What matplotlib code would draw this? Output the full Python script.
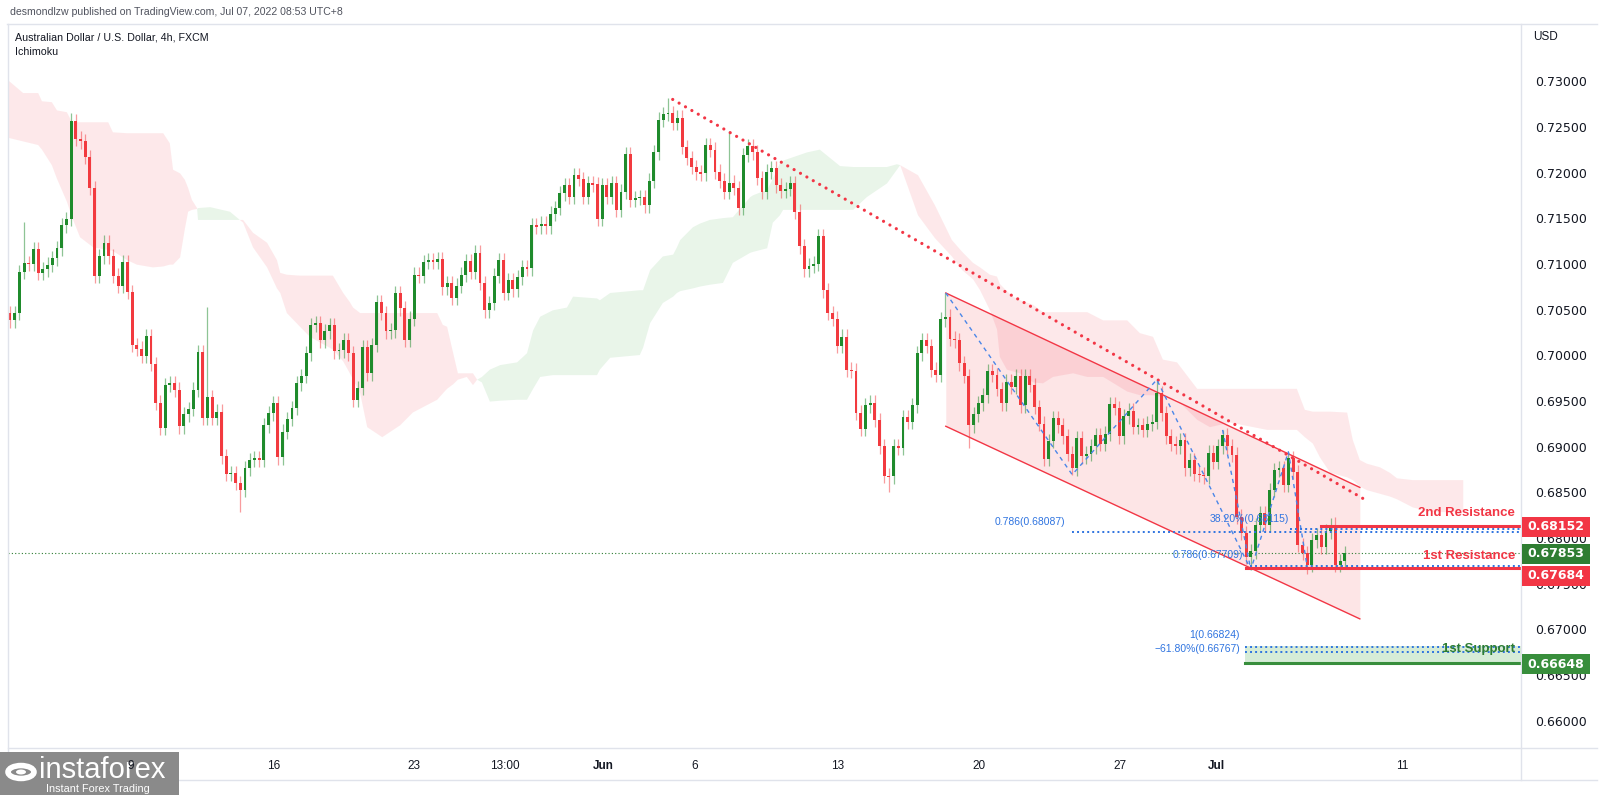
import matplotlib
matplotlib.use("Agg")
import matplotlib.pyplot as plt
import numpy as np
from matplotlib.lines import Line2D
from matplotlib.patches import Rectangle, Circle

plt.rcParams["font.family"] = ["Liberation Sans", "DejaVu Sans"]

# ---- AUDUSD 4h candles, prices in pips (1 pip = 0.0001) ----
first_open = 7048
closes = [
    7040, 7048, 7093, 7103, 7102, 7118, 7092, 7096, 7101, 7108, 7119, 7144, 7151, 7258, 7239,
    7236, 7219, 7185, 7089, 7110, 7125, 7110, 7089, 7078, 7104, 7071, 7013, 7009, 7001, 7023,
    6992, 6950, 6922, 6969, 6971, 6964, 6924, 6937, 6943, 6964, 7005, 6933, 6956, 6933, 6940,
    6891, 6872, 6873, 6862, 6854, 6878, 6887, 6889, 6887, 6925, 6938, 6949, 6890, 6918, 6932,
    6944, 6971, 6979, 7004, 7035, 7037, 7018, 7028, 7035, 7006, 7007, 7018, 7004, 6953, 6966,
    7011, 6982, 7013, 7060, 7048, 7028, 7029, 7070, 7053, 7019, 7042, 7090, 7089, 7104, 7106,
    7104, 7107, 7076, 7081, 7065, 7078, 7090, 7105, 7093, 7114, 7081, 7051, 7059, 7089, 7106,
    7070, 7084, 7074, 7087, 7098, 7097, 7144, 7143, 7146, 7143, 7157, 7163, 7179, 7188, 7175,
    7199, 7195, 7175, 7190, 7189, 7151, 7188, 7175, 7190, 7161, 7181, 7222, 7172, 7174, 7175,
    7166, 7193, 7224, 7260, 7266, 7267, 7256, 7262, 7230, 7218, 7208, 7202, 7201, 7232, 7227,
    7203, 7193, 7181, 7191, 7185, 7163, 7221, 7231, 7224, 7196, 7181, 7203, 7207, 7188, 7182,
    7184, 7190, 7159, 7121, 7096, 7100, 7102, 7132, 7073, 7048, 7042, 7012, 7022, 6986, 6985,
    6939, 6921, 6947, 6950, 6931, 6902, 6870, 6869, 6902, 6900, 6934, 6929, 6947, 7004, 7018,
    7012, 6986, 6980, 7041, 7044, 7020, 7018, 6993, 6979, 6925, 6937, 6949, 6958, 6984, 6980,
    6965, 6949, 6973, 6967, 6979, 6947, 6979, 6969, 6945, 6927, 6888, 6908, 6933, 6925, 6913,
    6894, 6878, 6911, 6891, 6894, 6902, 6914, 6905, 6916, 6948, 6944, 6913, 6935, 6941, 6923,
    6925, 6920, 6927, 6929, 6960, 6938, 6913, 6905, 6902, 6909, 6878, 6887, 6872, 6871, 6869,
    6895, 6885, 6902, 6914, 6902, 6893, 6825, 6807, 6781, 6787, 6816, 6829, 6816, 6854, 6876,
    6878, 6860, 6889, 6874, 6794, 6785, 6772, 6799, 6805, 6792, 6809, 6816, 6772, 6776, 6785,
]
# long wicks (candle number -> price in pips)
spike_highs = {4: 7148, 14: 7267, 43: 7055, 141: 7284, 154: 7247, 200: 7070,
               245: 6975, 259: 6920, 273: 6896, 283: 6825}
spike_lows = {50: 6830, 188: 6852, 205: 6900, 227: 6871, 265: 6767, 277: 6762}

# ---- Ichimoku cloud (x in candle units, spans in pips) ----
cloud_x = [0.6, 3.8, 7.0, 7.8, 9.9, 11.0, 13.1, 14.2, 15.9, 18.7, 21.9, 22.9, 25.9, 28.0, 31.4,
           33.6, 35.0, 35.7, 37.2, 38.2, 38.9, 39.7, 40.8, 41.0, 43.6, 47.8, 49.9, 50.6, 52.7,
           55.7, 57.8, 58.5, 59.9, 62.7, 64.8, 69.7, 71.9, 73.3, 74.0, 75.5, 77.0, 80.2, 84.0,
           86.7, 90.4, 91.9, 93.1, 94.0, 95.3, 96.3, 98.2, 99.5, 100.4, 101.4, 103.1, 105.3,
           108.9, 111.0, 112.3, 113.8, 116.5, 119.5, 120.8, 125.9, 126.5, 128.7, 135.0, 135.7,
           137.2, 139.9, 142.1, 142.9, 143.6, 146.3, 147.8, 149.9, 152.7, 154.8, 158.5, 159.1,
           162.1, 163.3, 164.8, 165.5, 170.6, 173.3, 177.6, 180.4, 183.3, 187.6, 189.7, 190.4,
           194.2, 197.8, 201.4, 203.6, 205.9, 207.4, 209.5, 211.0, 211.6, 213.1, 214.4, 215.9,
           218.7, 220.8, 222.9, 227.2, 230.2, 233.6, 238.7, 241.4, 244.2, 246.3, 249.3, 253.6,
           256.3, 260.6, 268.5, 274.8, 276.5, 278.2, 279.7, 281.9, 285.5, 286.7, 288.2, 289.7,
           292.5, 294.6, 296.1, 299.5, 303.8, 310.2]
span_a = [7240, 7236, 7232, 7227, 7210, 7195, 7170, 7153, 7131, 7120, 7117, 7116, 7106, 7101, 7098,
          7099, 7101, 7101, 7109, 7140, 7159, 7161, 7162, 7163, 7164, 7159, 7150, 7147, 7120,
          7098, 7075, 7070, 7048, 7033, 7022, 7008, 6995, 6982, 6975, 6960, 6923, 6912, 6925,
          6939, 6949, 6953, 6960, 6965, 6970, 6975, 6978, 6969, 6975, 6978, 6986, 6991,
          6994, 7004, 7029, 7044, 7051, 7054, 7066, 7064, 7062, 7070, 7073, 7073,
          7095, 7110, 7112, 7120, 7128, 7142, 7146, 7150, 7152, 7153, 7175, 7177,
          7183, 7195, 7212, 7215, 7224, 7227, 7209, 7208, 7208, 7208, 7211, 7210,
          7155, 7130, 7110, 7095, 7085, 7073, 7051, 7030, 7000, 6986, 6984, 6982,
          6972, 6971, 6978, 6982, 6978, 6978, 6962, 6958, 6958, 6956, 6953, 6931,
          6923, 6928, 6920, 6920, 6912, 6905, 6890, 6873, 6868, 6865, 6858, 6854,
          6850, 6847, 6844, 6835, 6830, 6830]
span_b = [7303, 7289, 7289, 7280, 7279, 7270, 7268, 7257, 7257, 7257, 7257, 7246, 7245, 7245, 7245,
          7245, 7234, 7205, 7201, 7194, 7185, 7172, 7163, 7150, 7150, 7150, 7150, 7150, 7136,
          7125, 7106, 7092, 7090, 7089, 7089, 7089, 7070, 7060, 7054, 7048, 7048, 7048, 7048,
          7048, 7048, 7048, 7035, 7033, 7004, 6982, 6982, 6982, 6975, 6972, 6951, 6952,
          6953, 6953, 6965, 6978, 6980, 6980, 6980, 6980, 6986, 6999, 7002, 7010,
          7037, 7059, 7066, 7070, 7072, 7075, 7077, 7079, 7081, 7103, 7114, 7115,
          7119, 7147, 7155, 7161, 7161, 7161, 7161, 7161, 7175, 7190, 7205, 7210,
          7199, 7166, 7128, 7115, 7103, 7098, 7090, 7088, 7080, 7072, 7066, 7062,
          7057, 7049, 7049, 7049, 7049, 7040, 7040, 7026, 7022, 6997, 6994, 6965,
          6965, 6965, 6965, 6965, 6942, 6940, 6940, 6940, 6939, 6909, 6887, 6883,
          6879, 6873, 6867, 6865, 6865, 6865]

# ---- drawings ----
trend_x = [142, 289.5]
trend_y = [0.7282, 0.6843]
channel_x = [200.1, 288.2]
channel_top = [0.7070, 0.6857]
channel_bot = [0.6924, 0.6713]
zigzag_x = [200.1, 227, 245, 265, 273, 277]
zigzag_y = [0.7070, 0.6871, 0.6975, 0.6767, 0.6896, 0.6770]
swing_x = [259, 265]
swing_y = [0.6920, 0.6767]

fib_levels = [0.68087, 0.68115, 0.67709, 0.66824, 0.66767]
fib_starts = [226.9, 273.3, 264.8, 263.8, 263.8]
fib_texts = ["0.786(0.68087)", "38.20%(0.68115)", "0.786(0.67709)", "1(0.66824)", "\u221261.80%(0.66767)"]

res_levels = [0.68152, 0.67684]
res_starts = [280, 264]
res_texts = ["2nd Resistance", "1st Resistance"]
sup_level = 0.66648
sup_zone_top = 0.66830
sup_start = 263.8
last_price = 0.67853

tick_prices = [0.66, 0.665, 0.67, 0.675, 0.68, 0.685, 0.69, 0.695,
               0.70, 0.705, 0.71, 0.715, 0.72, 0.725, 0.73]
date_labels = ["9", "16", "23", "13:00", "Jun", "6", "13", "20", "27", "Jul", "11"]
date_pos = [26.7, 57.0, 87.0, 106.3, 127.2, 146.7, 177.0, 207.2, 237.2, 257.6, 297.2]

GREEN = "#1f8b2c"
RED = "#f23a3f"
BLUE = "#2f74e0"
BORDER = "#e0e3eb"
TEXT = "#131722"

W, H = 1600, 795
L, R, T, B = 8, 1521, 24, 748
PX, X0 = 4.7, 5.3
Y73, SCALE = 83, 9129   # pixel row of 0.73000 and pixels per 1.0 of price

fig = plt.figure(figsize=(W / 100, H / 100), dpi=100)
fig.patch.set_facecolor("white")
ax = fig.add_axes([L / W, 1 - B / H, (R - L) / W, (B - T) / H])
ax.set_xlim((L - X0) / PX, (R - X0) / PX)
ax.set_ylim(0.73 - (B - Y73) / SCALE, 0.73 + (Y73 - T) / SCALE)
ax.set_axis_off()


def fx(x):
    return x / W


def fy(y):
    return 1 - y / H


def py(p):
    return Y73 + (0.73 - p) * SCALE


# cloud
cx = np.array(cloud_x)
sa = np.array(span_a) / 1e4
sb = np.array(span_b) / 1e4
ax.fill_between(cx, sa, sb, where=sa >= sb, interpolate=True, color="#4caf50", alpha=0.12, lw=0, zorder=1)
ax.fill_between(cx, sa, sb, where=sa < sb, interpolate=True, color="#f23645", alpha=0.11, lw=0, zorder=1)

# channel
ax.fill_between(channel_x, channel_bot, channel_top, color="#f23645", alpha=0.13, lw=0, zorder=1.5)
ax.plot(channel_x, channel_top, color="#f23645", lw=1.0, zorder=2)
ax.plot(channel_x, channel_bot, color="#f23645", lw=1.0, zorder=2)

# last price dotted line
ax.axhline(last_price, color="#2e7d32", lw=0.8, ls=(0, (1, 2)), zorder=2)

# candles
n = len(closes)
idx = np.arange(1, n + 1)
c = np.array(closes) / 1e4
o = np.concatenate([[first_open / 1e4], c[:-1]])
WICK = 0.0008
hi = np.maximum(o, c) + WICK
lo = np.minimum(o, c) - WICK
for k, v in spike_highs.items():
    hi[k - 1] = v / 1e4
for k, v in spike_lows.items():
    lo[k - 1] = v / 1e4
up = c >= o
body = c - o
body = np.where(np.abs(body) < 0.00012, np.where(up, 0.00012, -0.00012), body)
for mask, col in [(up, GREEN), (~up, RED)]:
    ax.vlines(idx[mask], lo[mask], hi[mask], color=col, alpha=0.5, lw=0.9, zorder=3)
    ax.bar(idx[mask], body[mask], bottom=o[mask], width=0.62, color=col, lw=0, zorder=3.5)

# falling trend line (dotted)
ax.plot(trend_x, trend_y, color="#f23645", lw=2.3, ls=(0, (0.01, 2.3)),
        dash_capstyle="round", zorder=4)

# zigzag of the fib tools
ax.plot(zigzag_x, zigzag_y, color="#4a86e8", lw=1.0, ls=(0, (3, 3)), zorder=4)
ax.plot(swing_x, swing_y, color="#4a86e8", lw=1.0, ls=(0, (3, 3)), zorder=4)

xr = ax.get_xlim()[1]
# support zone
ax.fill_between([sup_start, xr], sup_level, sup_zone_top, color="#a5d6a7", alpha=0.45, lw=0, zorder=4)
ax.plot([sup_start, xr], [sup_level, sup_level], color="#388e3c", lw=2.2, zorder=5)
ax.text(321.2, 0.66795, "1st Support", color="#2e7d32", fontsize=9.5, fontweight="bold",
        ha="right", va="center", zorder=6)

# fib levels
for lvl, x0 in zip(fib_levels, fib_starts):
    ax.plot([x0, xr], [lvl, lvl], color=BLUE, lw=1.4, ls=(0, (1, 1.6)), zorder=5)
fib_text_pos = [(225.5, 0.68194, "right"), (256.3, 0.68229, "left"), (263.3, 0.67830, "right"),
                (262.7, 0.66953, "right"), (262.7, 0.66800, "right")]
for (tx, ty, ha), s in zip(fib_text_pos, fib_texts):
    ax.text(tx, ty, s, color=BLUE, fontsize=7.5, ha=ha, va="center", zorder=6)

# resistance lines
for lvl, x0 in zip(res_levels, res_starts):
    ax.plot([x0, xr], [lvl, lvl], color="#f23645", lw=2.2, zorder=5)
ax.text(321.2, 0.68290, res_texts[0], color="#f23645", fontsize=9.5, fontweight="bold",
        ha="right", va="center", zorder=6)
ax.text(321.2, 0.67822, res_texts[1], color="#f23645", fontsize=9.5, fontweight="bold",
        ha="right", va="center", zorder=6)

# price scale
for p in tick_prices:
    fig.text(fx(1561), fy(py(p)), f"{p:.5f}", ha="center", va="center",
             fontsize=9, color=TEXT, family="DejaVu Sans")

# price tags on the scale (pixel rows where the tags sit)
tags = [(527.0, "0.68152", "#f23645"), (553.5, "0.67853", "#2e7d32"),
        (575.5, "0.67684", "#f23645"), (664.0, "0.66648", "#388e3c")]
for ty, s, col in tags:
    fig.add_artist(Rectangle((fx(1522), fy(ty + 10)), 68 / W, 20 / H, transform=fig.transFigure,
                             facecolor=col, edgecolor="none", zorder=10))
    fig.text(fx(1556), fy(ty), s, ha="center", va="center", fontsize=9, color="white",
             fontweight="bold", family="DejaVu Sans", zorder=11)

fig.text(fx(1533), fy(37), "USD", ha="left", va="center", fontsize=8.5, color=TEXT)

# frame lines
for (x0, y0, x1, y1) in [(7, T, 1597, T), (L, T, L, 780), (R, T, R, 780),
                         (L, B, 1597, B), (L, 780, 1597, 780)]:
    fig.add_artist(Line2D([fx(x0), fx(x1)], [fy(y0), fy(y1)], transform=fig.transFigure,
                          color=BORDER, lw=1))

# header
fig.text(fx(10), fy(12), "desmondlzw published on TradingView.com, Jul 07, 2022 08:53 UTC+8",
         fontsize=7.6, color="#50535e", va="center")
fig.text(fx(15), fy(38), "Australian Dollar / U.S. Dollar, 4h, FXCM", fontsize=7.7,
         color=TEXT, va="center")
fig.text(fx(15), fy(52), "Ichimoku", fontsize=7.7, color=TEXT, va="center")

# watermark logo
fig.add_artist(Rectangle((fx(0), fy(795)), 179 / W, 43 / H, transform=fig.transFigure,
                         facecolor="#8a8a8a", edgecolor="none", zorder=20))
fig.add_artist(Circle((fx(21), fy(772)), 13 / W, transform=fig.transFigure, fill=False,
                      edgecolor="white", lw=4, zorder=21))
fig.add_artist(Circle((fx(21), fy(772)), 5 / W, transform=fig.transFigure, facecolor="white",
                      edgecolor="none", zorder=21))
fig.text(fx(39), fy(770), "instaforex", fontsize=21, color="white", va="center", zorder=22)
fig.text(fx(46), fy(789), "Instant Forex Trading", fontsize=7.8, color="white", va="center", zorder=22)

# time scale (drawn last so the first label stays on top of the logo)
for pos, s in zip(date_pos, date_labels):
    fig.text(fx(X0 + PX * pos), fy(766), s, ha="center", va="center", fontsize=8.5,
             color=TEXT, fontweight="bold" if s in ("Jun", "Jul") else "normal", zorder=30)

fig.savefig("out.png", dpi=100, facecolor="white")
